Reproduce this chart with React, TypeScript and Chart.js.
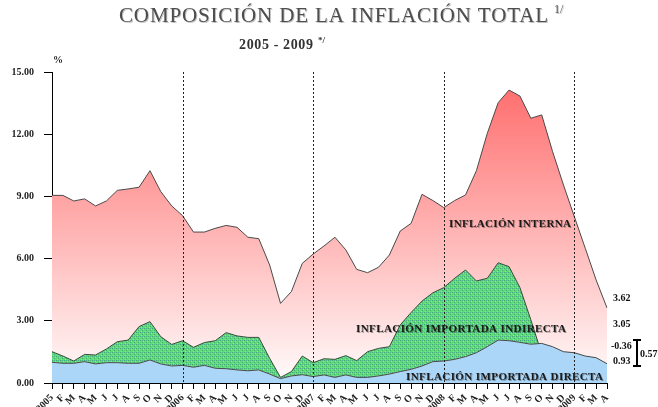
import React, { useEffect, useRef } from "react";
import { Chart, registerables } from "chart.js";

Chart.register(...registerables);

const MONTH_LABELS = [
  "2005", "F", "M", "A", "M", "J", "J", "A", "S", "O", "N", "D",
  "2006", "F", "M", "A", "M", "J", "J", "A", "S", "O", "N", "D",
  "2007", "F", "M", "A", "M", "J", "J", "A", "S", "O", "N", "D",
  "2008", "F", "M", "A", "M", "J", "J", "A", "S", "O", "N", "D",
  "2009", "F", "M", "A",
];

const DIRECTA = [
  1.0, 0.95, 0.95, 1.03, 0.92, 0.98, 0.98, 0.95, 0.95, 1.11, 0.92, 0.82,
  0.85, 0.76, 0.85, 0.71, 0.69, 0.63, 0.59, 0.63, 0.43, 0.21, 0.34, 0.4,
  0.31, 0.39, 0.27, 0.39, 0.27, 0.27, 0.34, 0.43, 0.55, 0.66, 0.82, 1.03,
  1.06, 1.14, 1.27, 1.46, 1.75, 2.07, 2.04, 1.96, 1.87, 1.91, 1.75, 1.51,
  1.46, 1.3, 1.22, 0.93,
];

const INDIRECTA = [
  0.51, 0.35, 0.11, 0.35, 0.43, 0.66, 1.01, 1.12, 1.77, 1.85, 1.31, 1.04,
  1.19, 0.96, 1.1, 1.33, 1.74, 1.64, 1.61, 1.57, 0.76, 0.06, 0.21, 0.9,
  0.67, 0.78, 0.87, 0.93, 0.81, 1.24, 1.33, 1.32, 2.25, 2.74, 3.13, 3.32,
  3.54, 3.91, 4.18, 3.46, 3.3, 3.73, 3.57, 2.64, 1.18, -0.5, -0.42, -0.42,
  -0.45, -0.4, -0.38, -0.36,
];

const INTERNA = [
  7.54, 7.75, 7.72, 7.5, 7.19, 7.14, 7.3, 7.29, 6.72, 7.28, 7.0, 6.68,
  6.03, 5.56, 5.33, 5.42, 5.17, 5.24, 4.83, 4.76, 4.5, 3.57, 3.86, 4.47,
  5.24, 5.44, 5.89, 5.1, 4.4, 3.81, 3.91, 4.42, 4.53, 4.3, 5.15, 4.45,
  3.86, 3.75, 3.62, 5.32, 6.99, 7.72, 8.52, 9.24, 9.72, 11.52, 9.83, 8.46,
  7.01, 5.6, 4.13, 3.05,
];

const Y_TICKS = [0, 3, 6, 9, 12, 15];

const SERIF = "'Liberation Serif', 'Times New Roman', serif";

function fitText(ctx: CanvasRenderingContext2D, text: string, left: number, baseline: number, width: number) {
  (ctx as any).letterSpacing = "0px";
  const w = ctx.measureText(text).width;
  const n = Array.from(text).length;
  const ls = n > 1 ? (width - w) / (n - 1) : 0;
  (ctx as any).letterSpacing = ls + "px";
  ctx.textAlign = "left";
  ctx.fillText(text, left, baseline);
  (ctx as any).letterSpacing = "0px";
}

function makeGreenPattern(): CanvasPattern | string {
  const c = document.createElement("canvas");
  c.width = 4;
  c.height = 4;
  const g = c.getContext("2d");
  if (!g) return "#5fd67c";
  g.fillStyle = "#62d87c";
  g.fillRect(0, 0, 4, 4);
  g.fillStyle = "#3fae68";
  g.fillRect(0, 0, 1, 1);
  g.fillRect(2, 2, 1, 1);
  g.fillStyle = "#55a9a0";
  g.fillRect(2, 0, 1, 1);
  g.fillStyle = "#8fe69c";
  g.fillRect(1, 3, 1, 1);
  g.fillRect(3, 1, 1, 1);
  const p = g.createPattern(c, "repeat");
  return p || "#5fd67c";
}

export default function App() {
  const ref = useRef<HTMLCanvasElement | null>(null);

  useEffect(() => {
    const canvas = ref.current;
    if (!canvas) return;

    const stackDI = DIRECTA.map((d, i) => +(d + INDIRECTA[i]).toFixed(2));
    const total = stackDI.map((v, i) => +(v + INTERNA[i]).toFixed(2));
    const maxTotal = Math.max(...total);
    const last = DIRECTA.length - 1;
    const importada = DIRECTA[last] + INDIRECTA[last];
    const yearIdx = MONTH_LABELS.map((l, i) => (l.length === 4 && i > 0 ? i : -1)).filter((i) => i >= 0);

    const green = makeGreenPattern();

    const overlay = {
      id: "overlay",
      afterDatasetsDraw(chart: any) {
        const { ctx, chartArea, scales } = chart;
        ctx.save();
        ctx.strokeStyle = "#222";
        ctx.lineWidth = 1;
        ctx.setLineDash([2, 2]);
        yearIdx.forEach((idx) => {
          const x = Math.round(scales.x.getPixelForValue(idx)) + 0.5;
          ctx.beginPath();
          ctx.moveTo(x, chartArea.top);
          ctx.lineTo(x, chartArea.bottom);
          ctx.stroke();
        });
        ctx.setLineDash([]);

        // series labels
        ctx.fillStyle = "#1a1a1a";
        ctx.shadowColor = "rgba(0,0,0,0.35)";
        ctx.shadowOffsetX = 1;
        ctx.shadowOffsetY = 1;
        ctx.shadowBlur = 0;
        ctx.font = `bold 11px ${SERIF}`;
        fitText(ctx, "INFLACIÓN INTERNA", 449, 227, 122);
        fitText(ctx, "INFLACIÓN IMPORTADA INDIRECTA", 356, 332, 210);
        fitText(ctx, "INFLACIÓN IMPORTADA DIRECTA", 406, 380, 197);
        ctx.restore();
      },
      afterDraw(chart: any) {
        const { ctx } = chart;
        ctx.save();
        // title
        ctx.fillStyle = "#4d4d4d";
        ctx.shadowColor = "rgba(0,0,0,0.25)";
        ctx.shadowOffsetX = 1;
        ctx.shadowOffsetY = 1;
        ctx.font = `21px ${SERIF}`;
        fitText(ctx, "COMPOSICIÓN DE LA INFLACIÓN TOTAL", 119, 22, 429);
        ctx.font = `12px ${SERIF}`;
        ctx.fillText("1/", 554, 13);
        ctx.shadowColor = "rgba(0,0,0,0)";
        ctx.fillStyle = "#333";
        ctx.font = `bold 14px ${SERIF}`;
        fitText(ctx, "2005 - 2009", 239, 49, 74);
        ctx.font = `bold 9px ${SERIF}`;
        ctx.fillText("*/", 318, 43);
        // percent sign
        ctx.fillStyle = "#222";
        ctx.font = `bold 10px ${SERIF}`;
        ctx.textAlign = "left";
        ctx.fillText("%", 53, 63);
        // right-hand values
        ctx.font = `bold 10px ${SERIF}`;
        ctx.fillStyle = "#111";
        ctx.fillText(total[last].toFixed(2), 613, 301);
        ctx.fillText(INTERNA[last].toFixed(2), 613, 327);
        ctx.fillText(INDIRECTA[last].toFixed(2), 611, 349);
        ctx.fillText(DIRECTA[last].toFixed(2), 613, 364);
        ctx.fillText(importada.toFixed(2), 640, 357);
        ctx.strokeStyle = "#000";
        ctx.lineWidth = 2;
        ctx.beginPath();
        ctx.moveTo(637, 340);
        ctx.lineTo(637, 366);
        ctx.moveTo(633, 340);
        ctx.lineTo(641, 340);
        ctx.moveTo(633, 366);
        ctx.lineTo(641, 366);
        ctx.stroke();
        ctx.restore();
      },
    };

    const chart = new Chart(canvas, {
      type: "line",
      data: {
        labels: MONTH_LABELS,
        datasets: [
          {
            label: "Inflación importada directa",
            data: DIRECTA,
            fill: "origin",
            backgroundColor: "#acd6f8",
            borderColor: "#4a4a4a",
            borderWidth: 1,
            pointRadius: 0,
            tension: 0,
          },
          {
            label: "Inflación importada indirecta",
            data: stackDI,
            fill: "-1",
            backgroundColor: green as any,
            borderColor: "#3a4a40",
            borderWidth: 1,
            pointRadius: 0,
            tension: 0,
          },
          {
            label: "Inflación interna",
            data: total,
            fill: "-1",
            backgroundColor: (c: any) => {
              const ch = c.chart;
              if (!ch.chartArea || !ch.scales || !ch.scales.y) return "rgb(255,190,190)";
              const y = ch.scales.y;
              const g = ch.ctx.createLinearGradient(0, y.getPixelForValue(maxTotal), 0, y.getPixelForValue(0));
              g.addColorStop(0, "rgb(255,112,112)");
              g.addColorStop(1, "rgb(255,252,252)");
              return g;
            },
            borderColor: "#4a4a4a",
            borderWidth: 1,
            pointRadius: 0,
            tension: 0,
          },
        ],
      },
      options: {
        responsive: false,
        animation: false,
        events: [],
        layout: { padding: { top: 72, right: 51, left: 0, bottom: 0 } },
        plugins: {
          legend: { display: false },
          tooltip: { enabled: false },
          title: { display: false },
        },
        scales: {
          x: {
            type: "category",
            offset: false,
            afterFit: (s: any) => {
              s.height = 24;
            },
            grid: {
              drawOnChartArea: false,
              drawTicks: true,
              tickLength: 6,
              color: "#000",
              offset: false,
            },
            border: { display: true, color: "#000", width: 1 },
            ticks: {
              autoSkip: false,
              maxRotation: 45,
              minRotation: 45,
              padding: 3,
              color: "#222",
              font: { family: SERIF, size: 10, weight: "bold" },
            },
          },
          y: {
            min: 0,
            max: 15,
            afterFit: (s: any) => {
              s.width = 52;
            },
            afterBuildTicks: (s: any) => {
              s.ticks = Y_TICKS.map((v) => ({ value: v }));
            },
            grid: {
              drawOnChartArea: false,
              drawTicks: true,
              tickLength: 8,
              color: "#000",
            },
            border: { display: true, color: "#000", width: 1 },
            ticks: {
              padding: 10,
              color: "#222",
              font: { family: SERIF, size: 10, weight: "bold" },
              callback: (v: any) => Number(v).toFixed(2),
            },
          },
        },
      },
      plugins: [overlay],
    });

    return () => chart.destroy();
  }, []);

  return (
    <div
      style={{
        position: "fixed",
        left: 0,
        top: 0,
        width: 658,
        height: 407,
        overflow: "hidden",
        background: "#fff",
      }}
    >
      <canvas ref={ref} width={658} height={407} style={{ display: "block" }} />
    </div>
  );
}
